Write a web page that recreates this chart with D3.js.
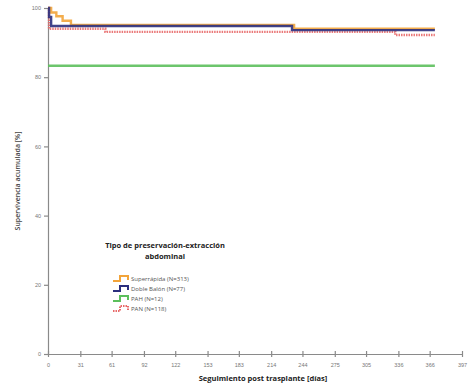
<!DOCTYPE html>
<html><head><meta charset="utf-8">
<script src="https://cdn.jsdelivr.net/npm/d3@7"></script>
<style>
body{margin:0;background:#fff;}
svg{display:block;font-family:"Open Sans","DejaVu Sans",sans-serif;}
</style></head>
<body><svg id="c" width="468" height="387"></svg>
<script>
// ---- data ----
const xTicks = [0,31,61,92,122,153,183,214,244,275,305,336,366,397];
const yTicks = [0,20,40,60,80,100];
const seriesNames = ["Superrápida (N=313)","Doble Balón (N=77)","PAH (N=12)","PAN (N=118)"];
const seriesColors = ["#f2a43a","#2b2f7e","#5cbf5c","#e86a6a"];
const supTimes = [0,3,8,14,22,236,371];
const supValues = [100,98.7,97.6,96.3,95.1,94.0,94.0];
const dobTimes = [0,1,3,234,371];
const dobValues = [100,97.4,94.8,93.6,93.6];
const pahTimes = [0,371];
const pahValues = [83.3,83.3];
const panTimes = [0,1,55,333,371];
const panValues = [100,94.0,93.1,92.2,92.2];

const svg = d3.select("#c");
const x = d3.scaleLinear().domain([0,397]).range([48,462]);
const y = d3.scaleLinear().domain([0,100]).range([354,8]);
const axisCol = "#8a8a8a";

// axes
const gx = svg.append("g").attr("transform","translate(0,354)")
  .call(d3.axisBottom(x).tickValues(xTicks).tickSize(0).tickPadding(9));
gx.select(".domain").attr("stroke",axisCol).attr("stroke-width",1.2);
gx.selectAll(".tick line").remove();
gx.selectAll(".tick").append("line").attr("y1",-3).attr("y2",3).attr("stroke",axisCol).attr("stroke-width",1.2);
gx.selectAll("text").attr("font-size",5.5).attr("fill","#777");

const gy = svg.append("g").attr("transform","translate(48,0)")
  .call(d3.axisLeft(y).tickValues(yTicks).tickSize(4).tickPadding(3));
gy.select(".domain").attr("stroke",axisCol).attr("stroke-width",1.2);
gy.selectAll(".tick line").attr("stroke",axisCol).attr("stroke-width",1.2);
gy.selectAll("text").attr("font-size",5.5).attr("fill","#777");

// axis titles
svg.append("text").attr("x",263).attr("y",381).attr("text-anchor","middle")
  .attr("font-size",7.5).attr("font-weight","bold").attr("fill","#222")
  .text("Seguimiento post trasplante [días]");
svg.append("text").attr("transform","translate(20,181) rotate(-90)").attr("text-anchor","middle")
  .attr("font-size",7).attr("font-weight","600").attr("fill","#444")
  .text("Supervivencia acumulada [%]");

// curves
const line = d3.line().x(d=>x(d[0])).y(d=>y(d[1])).curve(d3.curveStepAfter);
const all = [
  {t:pahTimes,v:pahValues,c:seriesColors[2],dash:null},
  {t:panTimes,v:panValues,c:seriesColors[3],dash:"1.5,1"},
  {t:supTimes,v:supValues,c:seriesColors[0],dash:null},
  {t:dobTimes,v:dobValues,c:seriesColors[1],dash:null}
];
all.forEach(s=>{
  const pts = s.t.map((t,i)=>[t,s.v[i]]);
  svg.append("path").attr("d",line(pts)).attr("fill","none")
    .attr("stroke",s.c).attr("stroke-width",2.4)
    .attr("stroke-dasharray",s.dash).attr("opacity",0.9);
});

// legend
const lg = svg.append("g");
lg.append("text").attr("x",165).attr("y",248).attr("text-anchor","middle")
  .attr("font-size",7.5).attr("font-weight","bold").attr("fill","#222")
  .text("Tipo de preservación-extracción");
lg.append("text").attr("x",165).attr("y",259).attr("text-anchor","middle")
  .attr("font-size",7.5).attr("font-weight","bold").attr("fill","#222")
  .text("abdominal");
seriesNames.forEach((n,i)=>{
  const yy = 279 + i*10;
  lg.append("path").attr("d",`M113,${yy+2} H120 V${yy-3} H128 V${yy+1}`)
    .attr("fill","none").attr("stroke",seriesColors[i]).attr("stroke-width",2)
    .attr("stroke-dasharray", i===3?"1.5,1":null);
  lg.append("text").attr("x",131).attr("y",yy+2).attr("font-size",6).attr("fill","#555").text(n);
});
</script></body></html>
